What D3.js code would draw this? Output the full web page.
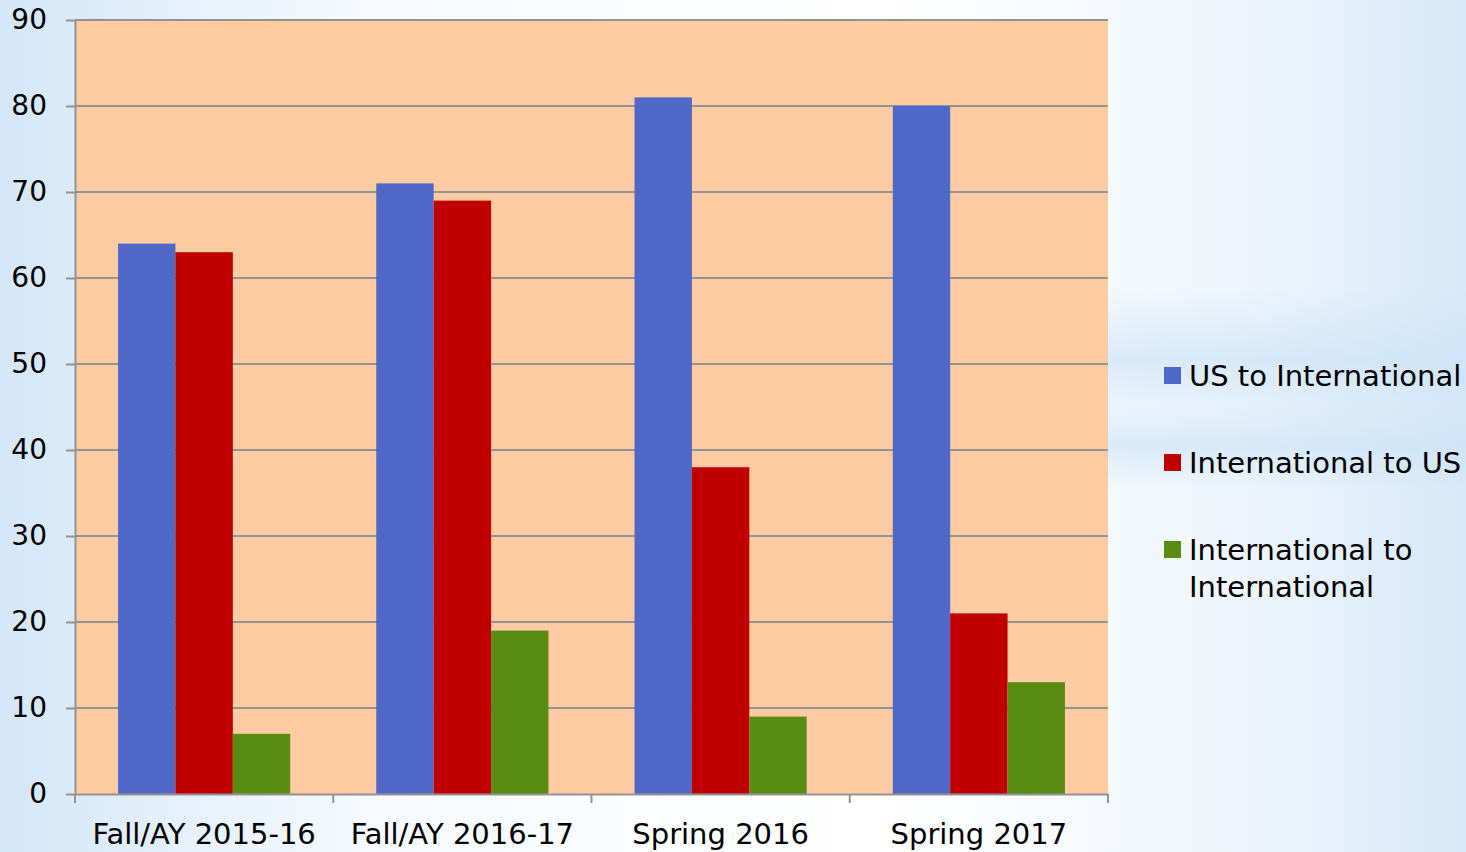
<!DOCTYPE html>
<html>
<head>
<meta charset="utf-8">
<script src="https://cdn.jsdelivr.net/npm/d3@7"></script>
<style>
  body { margin: 0; overflow: hidden; }
  svg text { font-family: "DejaVu Sans", sans-serif; fill: #000; }
</style>
</head>
<body>
<div id="chart"></div>
<script>
// Data
const categories = ["Fall/AY 2015-16", "Fall/AY 2016-17", "Spring 2016", "Spring 2017"];
const seriesNames = ["US to International", "International to US", "International to International"];
const usToIntl = [64, 71, 81, 80];
const intlToUs = [63, 69, 38, 21];
const intlToIntl = [7, 19, 9, 13];
const yTicks = [0, 10, 20, 30, 40, 50, 60, 70, 80, 90];

const seriesValues = [usToIntl, intlToUs, intlToIntl];
const colors = ["#5068C8", "#C00000", "#5A8C14"];

const width = 1466, height = 852;
const margin = { top: 20, right: 358, bottom: 58, left: 75 };

const svg = d3.select("#chart")
  .append("svg")
  .attr("width", width)
  .attr("height", height);

// Background gradient (slide-like light blue)
const defs = svg.append("defs");
const bg = defs.append("linearGradient").attr("id", "bg")
  .attr("x1", "0").attr("x2", "1").attr("y1", "0").attr("y2", "0");
bg.append("stop").attr("offset", "0%").attr("stop-color", "#d4e7f8");
bg.append("stop").attr("offset", "25%").attr("stop-color", "#f6fafe");
bg.append("stop").attr("offset", "60%").attr("stop-color", "#ffffff");
bg.append("stop").attr("offset", "85%").attr("stop-color", "#eef5fc");
bg.append("stop").attr("offset", "100%").attr("stop-color", "#d8e9f9");

const band = defs.append("linearGradient").attr("id", "band")
  .attr("x1", "0").attr("x2", "0").attr("y1", "0").attr("y2", "1");
band.append("stop").attr("offset", "0%").attr("stop-color", "#c9e1f6").attr("stop-opacity", 0);
band.append("stop").attr("offset", "50%").attr("stop-color", "#c9e1f6").attr("stop-opacity", 0.6);
band.append("stop").attr("offset", "100%").attr("stop-color", "#c9e1f6").attr("stop-opacity", 0);

svg.append("rect").attr("width", width).attr("height", height).attr("fill", "url(#bg)");
svg.append("rect").attr("x", 1108).attr("y", 290).attr("width", 358).attr("height", 140).attr("fill", "url(#band)");
svg.append("rect").attr("x", 1108).attr("y", 400).attr("width", 358).attr("height", 90).attr("fill", "url(#band)");

// Scales
const x0 = d3.scaleBand()
  .domain(categories)
  .range([margin.left, width - margin.right])
  .padding(0);

const x1 = d3.scaleBand()
  .domain(seriesNames)
  .range([0, x0.bandwidth()])
  .paddingInner(0)
  .paddingOuter(0.75);

const y = d3.scaleLinear()
  .domain([0, 90])
  .range([height - margin.bottom, margin.top]);

// Plot area
svg.append("rect")
  .attr("x", margin.left)
  .attr("y", margin.top)
  .attr("width", width - margin.right - margin.left)
  .attr("height", y(0) - margin.top)
  .attr("fill", "#FFCBA3");

// Gridlines
svg.append("g")
  .selectAll("line")
  .data(yTicks.filter(d => d > 0))
  .enter()
  .append("line")
  .attr("x1", margin.left)
  .attr("x2", width - margin.right)
  .attr("y1", d => y(d))
  .attr("y2", d => y(d))
  .attr("stroke", "#939393")
  .attr("stroke-width", 2);

// Bars
const plotData = [];
categories.forEach((c, i) => {
  seriesNames.forEach((s, j) => {
    plotData.push({ cat: c, series: s, value: seriesValues[j][i], color: colors[j] });
  });
});

svg.append("g")
  .selectAll("rect")
  .data(plotData)
  .enter()
  .append("rect")
  .attr("x", d => x0(d.cat) + x1(d.series))
  .attr("y", d => y(d.value))
  .attr("width", x1.bandwidth())
  .attr("height", d => y(0) - y(d.value))
  .attr("fill", d => d.color);

// Y axis
const yAxis = svg.append("g")
  .attr("transform", `translate(${margin.left},0)`)
  .call(d3.axisLeft(y).tickValues(yTicks).tickSize(9).tickPadding(19).tickSizeOuter(0));
yAxis.selectAll("line, path").attr("stroke", "#939393").attr("stroke-width", 2);
yAxis.selectAll("text").style("font-size", "28px").attr("fill", "#000");

// X axis
const xAxis = svg.append("g")
  .attr("transform", `translate(0,${y(0)})`)
  .call(d3.axisBottom(x0).tickSize(0).tickPadding(29));
xAxis.select("path").attr("stroke", "#939393").attr("stroke-width", 2);
xAxis.selectAll("text").style("font-size", "29px").attr("fill", "#000");

// Category separator ticks on x axis
svg.append("g")
  .selectAll("line")
  .data(categories.concat(["end"]))
  .enter()
  .append("line")
  .attr("x1", (d, i) => i < categories.length ? x0(d) : x0(categories[categories.length - 1]) + x0.bandwidth())
  .attr("x2", (d, i) => i < categories.length ? x0(d) : x0(categories[categories.length - 1]) + x0.bandwidth())
  .attr("y1", y(0))
  .attr("y2", y(0) + 9)
  .attr("stroke", "#939393")
  .attr("stroke-width", 2);

// Legend
const legend = svg.append("g").attr("transform", "translate(1164, 367)");
const legendRows = [["US to International"], ["International to US"], ["International to", "International"]];
legendRows.forEach((lines, i) => {
  legend.append("rect")
    .attr("x", 0)
    .attr("y", i * 87)
    .attr("width", 17)
    .attr("height", 17)
    .attr("fill", colors[i]);
  const t = legend.append("text")
    .attr("x", 25)
    .attr("y", i * 87 + 19)
    .style("font-size", "29px");
  lines.forEach((ln, k) => {
    t.append("tspan").attr("x", 25).attr("dy", k === 0 ? 0 : 37).text(ln);
  });
});
</script>
</body>
</html>
